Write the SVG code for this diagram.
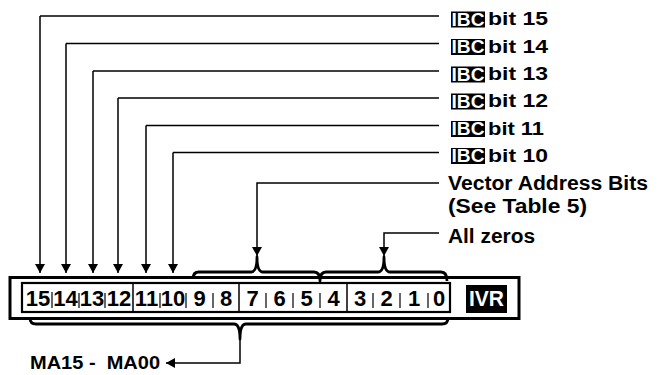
<svg xmlns="http://www.w3.org/2000/svg" width="667" height="375" viewBox="0 0 667 375">
<style>
.ln{fill:none;stroke:#000;stroke-width:1.5}
.br{fill:none;stroke:#000;stroke-width:2.8;stroke-linejoin:round}
.frame{fill:none;stroke:#000;stroke-width:3}
.inner{fill:#fff;stroke:#000;stroke-width:2.2}
.tick{stroke:#000;stroke-width:1.2}
.div{stroke:#000;stroke-width:1.5}
.t{font-family:"Liberation Sans",Arial,sans-serif;font-weight:bold;fill:#000}
.num{font-family:"Liberation Sans",Arial,sans-serif;font-weight:bold;font-size:22px;fill:#000;text-anchor:middle}
.wt{font-family:"Liberation Sans",Arial,sans-serif;font-weight:bold;fill:#fff;text-anchor:middle}
.blk{fill:#000}
</style>
<defs>
<marker id="ah" markerUnits="userSpaceOnUse" markerWidth="12" markerHeight="12" refX="9" refY="5" orient="auto">
<path d="M0,0 L9,5 L0,10 Z" fill="#000"/>
</marker>
</defs>
<rect width="667" height="375" fill="#fff"/>

<g id="connectors">
<path class="ln" d="M40,16 H439 M40,16 V273" marker-end="url(#ah)"/>
<path class="ln" d="M66,43.5 H439 M66,43.5 V273" marker-end="url(#ah)"/>
<path class="ln" d="M93,71 H439 M93,71 V273" marker-end="url(#ah)"/>
<path class="ln" d="M118,98 H439 M118,98 V273" marker-end="url(#ah)"/>
<path class="ln" d="M146,125.5 H439 M146,125.5 V273" marker-end="url(#ah)"/>
<path class="ln" d="M173,152.5 H439 M173,152.5 V273" marker-end="url(#ah)"/>
<path class="ln" d="M439,183 H257 V256" marker-end="url(#ah)"/>
<path class="ln" d="M439,233 H384 V256" marker-end="url(#ah)"/>
<path class="ln" d="M240,338 V363 H166" marker-end="url(#ah)"/>
</g>

<g id="register">
<rect class="frame" x="10" y="277.5" width="509" height="41"/>
<rect class="inner" x="22" y="283" width="428" height="29"/>
<g class="tick">
<line x1="52" y1="292" x2="52" y2="308"/>
<line x1="79" y1="293" x2="79" y2="308"/>
<line x1="105" y1="293" x2="105" y2="308"/>
<line x1="160" y1="293" x2="160" y2="308"/>
<line x1="186" y1="293" x2="186" y2="308"/>
<line x1="213" y1="293" x2="213" y2="308"/>
<line x1="266" y1="293" x2="266" y2="308"/>
<line x1="293" y1="293" x2="293" y2="308"/>
<line x1="320" y1="293" x2="320" y2="308"/>
<line x1="373" y1="293" x2="373" y2="308"/>
<line x1="400" y1="293" x2="400" y2="308"/>
<line x1="428" y1="293" x2="428" y2="308"/>
</g>
<g class="div">
<line x1="133" y1="283" x2="133" y2="312"/>
<line x1="239" y1="283" x2="239" y2="312"/>
<line x1="347" y1="283" x2="347" y2="312"/>
</g>
<text class="num" x="38" y="305.5">15</text>
<text class="num" x="65.5" y="305.5">14</text>
<text class="num" x="92" y="305.5">13</text>
<text class="num" x="119" y="305.5">12</text>
<text class="num" x="146.5" y="305.5">11</text>
<text class="num" x="173" y="305.5">10</text>
<text class="num" x="199.5" y="305.5">9</text>
<text class="num" x="226" y="305.5">8</text>
<text class="num" x="252.5" y="305.5">7</text>
<text class="num" x="279.5" y="305.5">6</text>
<text class="num" x="306.5" y="305.5">5</text>
<text class="num" x="333.5" y="305.5">4</text>
<text class="num" x="360" y="305.5">3</text>
<text class="num" x="386.5" y="305.5">2</text>
<text class="num" x="414" y="305.5">1</text>
<text class="num" x="439" y="305.5">0</text>
</g>

<g id="ivr">
<rect class="blk" x="466" y="285" width="41" height="28"/>
<text class="wt" x="486.5" y="306" font-size="22" textLength="35" lengthAdjust="spacingAndGlyphs">IVR</text>
</g>

<g id="braces">
<path class="br" d="M193,279 Q193,272 199,272 L251,272 Q257,272 257,257 Q257,272 263,272 L314,272 Q320,272 320,281 Q320,272 326,272 L378,272 Q384,272 384,257 Q384,272 390,272 L441,272 Q447,272 447,281"/>
<path class="br" d="M30,318 Q30,324 36,324 L234,324 Q240,324 240,339 Q240,324 246,324 L442,324 Q448,324 448,318"/>
</g>

<g id="ibc15"><rect class="blk" x="451" y="11.5" width="34" height="16"/><text class="wt" x="468" y="25.5" font-size="18" textLength="33" lengthAdjust="spacingAndGlyphs">IBC</text><text class="t" x="488" y="25" font-size="19" textLength="60" lengthAdjust="spacingAndGlyphs">bit 15</text></g>
<g id="ibc14"><rect class="blk" x="451" y="39" width="34" height="16"/><text class="wt" x="468" y="53" font-size="18" textLength="33" lengthAdjust="spacingAndGlyphs">IBC</text><text class="t" x="488" y="52.5" font-size="19" textLength="60" lengthAdjust="spacingAndGlyphs">bit 14</text></g>
<g id="ibc13"><rect class="blk" x="451" y="66.5" width="34" height="16"/><text class="wt" x="468" y="80.5" font-size="18" textLength="33" lengthAdjust="spacingAndGlyphs">IBC</text><text class="t" x="488" y="80" font-size="19" textLength="60" lengthAdjust="spacingAndGlyphs">bit 13</text></g>
<g id="ibc12"><rect class="blk" x="451" y="93.5" width="34" height="16"/><text class="wt" x="468" y="107.5" font-size="18" textLength="33" lengthAdjust="spacingAndGlyphs">IBC</text><text class="t" x="488" y="107" font-size="19" textLength="60" lengthAdjust="spacingAndGlyphs">bit 12</text></g>
<g id="ibc11"><rect class="blk" x="451" y="121" width="34" height="16"/><text class="wt" x="468" y="135" font-size="18" textLength="33" lengthAdjust="spacingAndGlyphs">IBC</text><text class="t" x="488" y="134.5" font-size="19" textLength="56" lengthAdjust="spacingAndGlyphs">bit 11</text></g>
<g id="ibc10"><rect class="blk" x="451" y="148" width="34" height="16"/><text class="wt" x="468" y="162" font-size="18" textLength="33" lengthAdjust="spacingAndGlyphs">IBC</text><text class="t" x="488" y="161.5" font-size="19" textLength="60" lengthAdjust="spacingAndGlyphs">bit 10</text></g>

<g id="vector">
<text class="t" x="448" y="190" font-size="20" textLength="200" lengthAdjust="spacingAndGlyphs">Vector Address Bits</text>
<text class="t" x="448" y="213" font-size="20" textLength="139" lengthAdjust="spacingAndGlyphs">(See Table 5)</text>
</g>
<g id="zeros"><text class="t" x="448" y="243" font-size="20" textLength="87" lengthAdjust="spacingAndGlyphs">All zeros</text></g>
<g id="ma"><text class="t" x="30" y="369" font-size="19" xml:space="preserve" textLength="130" lengthAdjust="spacingAndGlyphs">MA15 -  MA00</text></g>
</svg>
